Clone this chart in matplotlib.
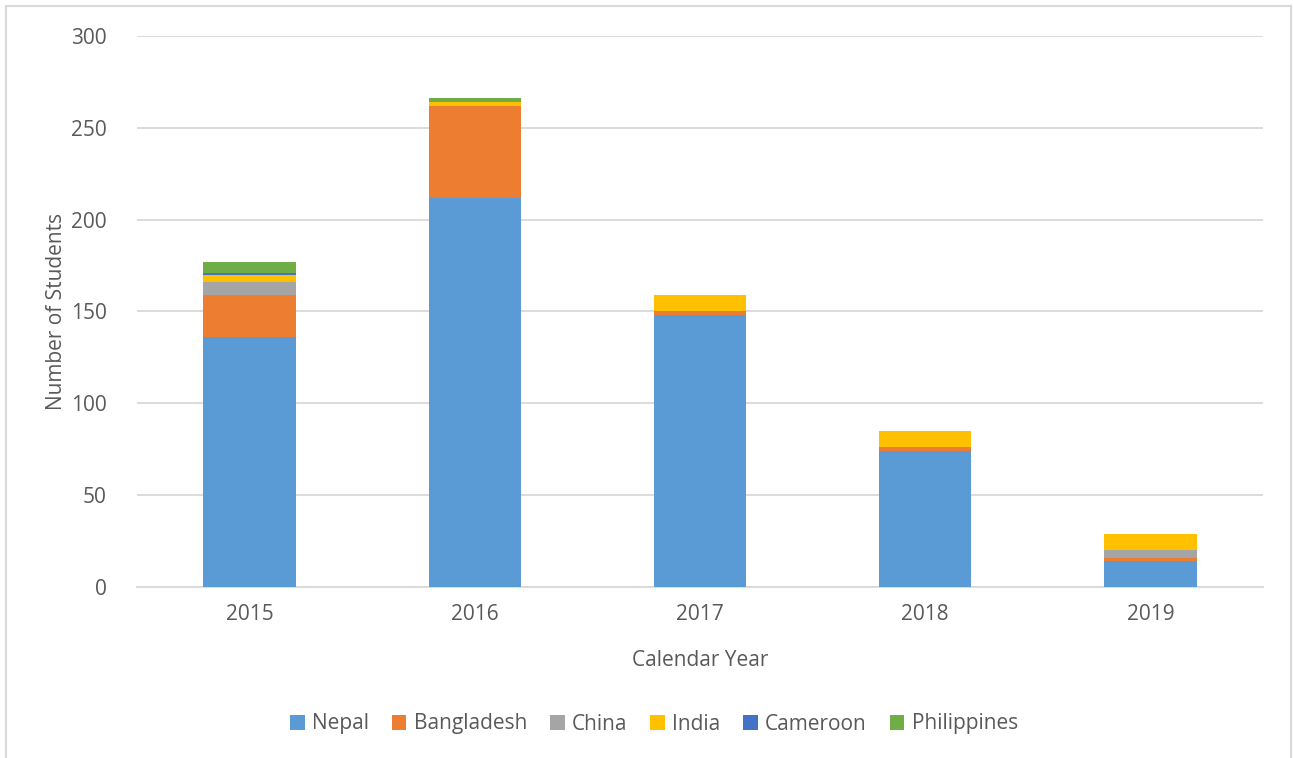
import numpy as np
import matplotlib.pyplot as plt
from matplotlib.lines import Line2D

years = ['2015', '2016', '2017', '2018', '2019']
countries = ['Nepal', 'Bangladesh', 'China', 'India', 'Cameroon', 'Philippines']

nepal = [136, 212, 148, 74, 14]
bangladesh = [23, 50, 2, 2, 2]
china = [7, 0, 0, 0, 4]
india = [4, 2, 9, 9, 9]
cameroon = [1, 0, 0, 0, 0]
philippines = [6, 2, 0, 0, 0]

colors = ['#5B9BD5', '#ED7D31', '#A5A5A5', '#FFC000', '#4472C4', '#70AD47']
series = [nepal, bangladesh, china, india, cameroon, philippines]

plt.rcParams['font.family'] = ['Open Sans', 'DejaVu Sans']
text_color = '#595959'
grid_color = '#D9D9D9'
fs = 15

fig = plt.figure(figsize=(12.93, 7.58), dpi=100)
ax = fig.add_axes([137 / 1293, 171 / 758, 1126 / 1293, 551 / 758])

x = np.arange(len(years))
bottom = np.zeros(len(years))
for name, vals, c in zip(countries, series, colors):
    ax.bar(x, vals, width=0.41, bottom=bottom, color=c, label=name, zorder=3)
    bottom += np.array(vals)

ax.set_xlim(-0.5, len(years) - 0.5)
ax.set_ylim(0, 300)
ax.set_yticks(range(0, 301, 50))
ax.set_xticks(x)
ax.set_xticklabels(years)
ax.grid(axis='y', color=grid_color, linewidth=1.3, zorder=0)
for s in ['top', 'right', 'left']:
    ax.spines[s].set_visible(False)
ax.spines['bottom'].set_color(grid_color)
ax.spines['bottom'].set_linewidth(1.3)
ax.tick_params(axis='both', length=0, labelsize=fs, labelcolor=text_color)
ax.tick_params(axis='y', pad=22)
ax.tick_params(axis='x', pad=12)

ax.set_xlabel('Calendar Year', fontsize=fs, color=text_color, labelpad=18)
ax.set_ylabel('Number of Students', fontsize=fs, color=text_color, va='center')
ax.yaxis.set_label_coords(-80 / 1126, 0.5)

fig.legend(loc='center', bbox_to_anchor=(654 / 1293, 1 - 724 / 758), ncol=6,
           frameon=False, fontsize=fs, labelcolor=text_color,
           handlelength=0.7, handleheight=0.7, handletextpad=0.35, columnspacing=1.1)

# chart border
border = dict(color=grid_color, linewidth=1.5, transform=fig.transFigure)
fig.lines.append(Line2D([6 / 1293, 6 / 1293], [0, 1 - 6 / 758], **border))
fig.lines.append(Line2D([6 / 1293, 1291 / 1293], [1 - 6 / 758, 1 - 6 / 758], **border))
fig.lines.append(Line2D([1291 / 1293, 1291 / 1293], [0, 1 - 6 / 758], **border))

plt.savefig('out.png', dpi=100)
